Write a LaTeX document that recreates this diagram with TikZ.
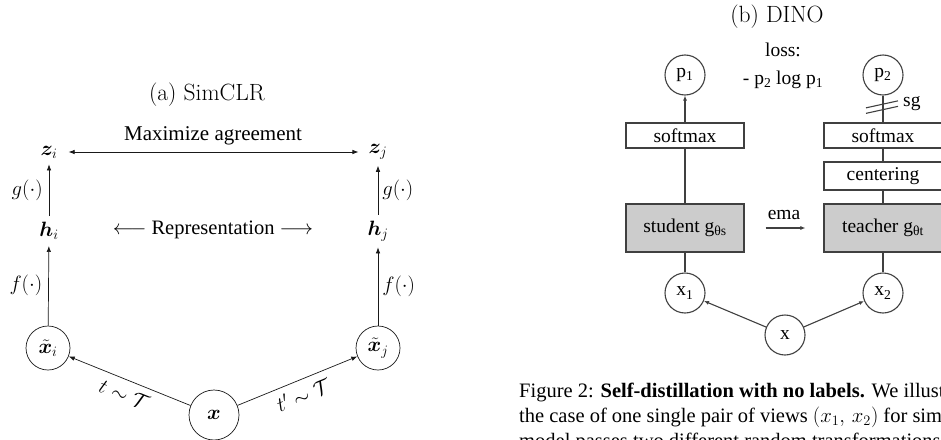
\documentclass[tikz,border=0pt]{standalone}
\usepackage{amsmath}
\usepackage{bm}
\usepackage{fontspec}
\newfontfamily\tms{Liberation Serif}
\usetikzlibrary{arrows.meta}
\begin{document}
\begin{tikzpicture}[x=1pt,y=-1pt,
  sline/.style={line width=0.7pt, draw=black!90},
  sarr/.style={sline, -{Latex[length=6pt,width=4.5pt]}},
  sarrrev/.style={sline, {Latex[length=6pt,width=4.5pt]}-},
  sarrboth/.style={sline, {Latex[length=6pt,width=4.5pt]}-{Latex[length=6pt,width=4.5pt]}},
  mlbl/.style={font=\fontsize{21}{25}\selectfont, inner sep=6pt},
  elbl/.style={font=\fontsize{21}{25}\selectfont, inner sep=2pt},
  scirc/.style={circle, draw=black!90, line width=0.7pt, inner sep=0pt, minimum size=44pt, font=\fontsize{21}{25}\selectfont},
  ttl/.style={font=\fontsize{23.5}{28}\selectfont},
  dfont/.style={font=\tms\fontsize{19.5}{28}\selectfont},
  dline/.style={line width=1.1pt, draw=black!75},
  darr/.style={dline, -{Latex[length=5pt,width=4pt]}},
  dbox/.style={draw=black!75, line width=1.1pt, minimum width=118pt, inner sep=0pt, dfont},
  dcirc/.style={circle, draw=black!75, line width=1.1pt, inner sep=0pt, minimum size=40pt, dfont},
  capt/.style={font=\tms\fontsize{20.5}{25}\selectfont, anchor=base west, inner sep=0pt}
]
\useasboundingbox (0,0) rectangle (941,439);

% ---------------- (a) SimCLR ----------------
\node[ttl] (ta) at (207,95) {(a) SimCLR};
\node[mlbl] (zi) at (49,152) {$\bm{z}_i$};
\node[mlbl] (zj) at (378,152) {$\bm{z}_j$};
\node[mlbl] (hi) at (49,231) {$\bm{h}_i$};
\node[mlbl] (hj) at (378,231) {$\bm{h}_j$};
\node[scirc] (xi) at (48,348) {$\tilde{\bm{x}}_i$};
\node[scirc] (xj) at (378,348) {$\tilde{\bm{x}}_j$};
\node[scirc, minimum size=50pt] (x) at (214,415) {$\bm{x}$};

\draw[sarrboth, shorten <=5pt, shorten >=4pt] (zi) -- node[above=7pt, font=\tms\fontsize{21}{25}\selectfont, inner sep=0pt] (ma) {Maximize agreement} (zj);
\node[font=\tms\fontsize{20.5}{25}\selectfont] (rep) at (213,230) {$\longleftarrow$ Representation $\longrightarrow$};

\draw[sarr] (hi) -- node[elbl, left=4pt] (gl) {$g(\cdot)$} (zi);
\draw[sarr] (xi) -- node[elbl, left=4pt] (fl) {$f(\cdot)$} (hi);
\draw[sarr] (hj) -- node[elbl, right=2pt] (gr) {$g(\cdot)$} (zj);
\draw[sarr] (xj) -- node[elbl, right=2pt] (fr) {$f(\cdot)$} (hj);

\draw[sarrrev] (xi) -- node[elbl, sloped, below=5pt] (tl) {$t\sim\mathcal{T}$} (x);
\draw[sarr] (x) -- node[elbl, sloped, below=5pt] (tr) {$t'\sim\mathcal{T}$} (xj);

% ---------------- (b) DINO ----------------
\node[ttl] (tb) at (777,17) {(b) DINO};
\node[dcirc] (p1) at (685,75) {p\textsubscript{1}};
\node[dcirc] (p2) at (883,75) {p\textsubscript{2}};
\node[dfont, align=center, inner sep=0pt] (loss) at (783,66) {loss:\\- p\textsubscript{2} log p\textsubscript{1}};

\node[dbox, minimum height=25pt] (sm1) at (685,135.5) {softmax};
\node[dbox, minimum height=48pt, fill=black!20] (st) at (685,228) {student g\textsubscript{θs}};
\node[dcirc] (x1) at (685,293) {x\textsubscript{1}};

\node[dbox, minimum height=25pt] (sm2) at (883,135.5) {softmax};
\node[dbox, minimum height=28pt] (cen) at (883,176) {centering};
\node[dbox, minimum height=48pt, fill=black!20] (te) at (883,228) {teacher g\textsubscript{θt}};
\node[dcirc] (x2) at (883,293) {x\textsubscript{2}};

\node[dcirc] (xx) at (785,335) {x};

\draw[darr] (sm1) -- (p1);
\draw[dline] (st) -- (sm1);
\draw[dline] (x1) -- (st);
\draw[dline] (p2) -- coordinate[pos=0.42] (sgm) (sm2);
\draw[dline] (sm2) -- (cen);
\draw[dline] (cen) -- (te);
\draw[dline] (te) -- (x2);
\draw[dline] (sgm) ++(-17,1) -- ++(32,-7);
\draw[dline] (sgm) ++(-17,6.5) -- ++(32,-7);
\node[dfont, anchor=west, inner sep=0pt] (sg) at (903,104) {sg};

\draw[darr, shorten <=21pt, shorten >=18pt] (st) -- node[above=8pt, dfont, inner sep=0pt] (ema) {ema} (te);
\draw[darr] (xx) -- (x1);
\draw[darr] (xx) -- (x2);

% ---------------- caption (cut at the right edge) ----------------
\begin{scope}
\clip (0,0) rectangle (941,439);
\node[capt] (c1) at (519,397.7) {Figure 2: \textbf{Self-distillation with no labels.} We illustrate DINO in};
\node[capt] (c2) at (519,422.7) {the case of one single pair of views $(x_1,\, x_2)$ for simplicity. The};
\node[capt] (c3) at (519,447.7) {model passes two different random transformations of an input};
\end{scope}
\end{tikzpicture}
\end{document}
